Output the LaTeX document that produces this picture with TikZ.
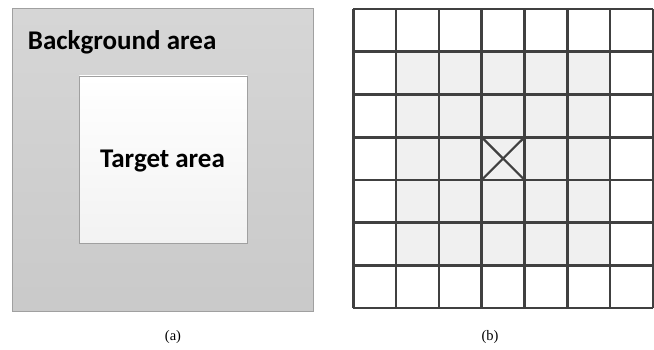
\documentclass[tikz,border=0pt]{standalone}
\usepackage{fontspec}
\setmainfont{Liberation Serif}
\newfontfamily\calib{Carlito}
\definecolor{gridline}{HTML}{404040}
\definecolor{cellfill}{HTML}{F0F0F0}
\definecolor{boxedge}{HTML}{A0A0A0}
\begin{document}
\begin{tikzpicture}[x=1pt,y=1pt,
  lbl/.style={font=\calib\bfseries\fontsize{27}{30}\selectfont, inner sep=0pt},
  captext/.style={font=\fontsize{14.5}{16}\selectfont, inner sep=0pt},
  gl/.style={draw=gridline, line width=2.6pt}]
\useasboundingbox (0,0) rectangle (654,349);
% panel (a)
\shade[top color=black!16, bottom color=black!21, draw=boxedge, line width=0.9pt]
  (12,38) rectangle (313,340.7);
\shade[top color=white, bottom color=black!5, draw=boxedge, line width=0.9pt]
  (79.3,106) rectangle (247.3,273);
\node[lbl, anchor=base west] (bg) at (27.7,299) {Background area};
\node[lbl, anchor=base] (tg) at (162.5,182) {Target area};
\node[captext, anchor=base] (ca) at (173,9) {(a)};
% panel (b)
\fill[cellfill] (395.7,83.3) rectangle (610,297.3);
\foreach \i in {0,...,7} {
  \draw[gl] ({353.3+42.8*\i},41) -- ({353.3+42.8*\i},339.9);
  \draw[gl] (353.3,{41+42.7*\i}) -- (652.9,{41+42.7*\i});
}
\coordinate (c1) at (481.7,169.1);
\coordinate (c2) at (524.5,211.8);
\coordinate (c3) at (481.7,211.8);
\coordinate (c4) at (524.5,169.1);
\draw[gl, line width=2.2pt] (c1) -- (c2);
\draw[gl, line width=2.2pt] (c3) -- (c4);
\node[captext, anchor=base] (cb) at (490,9) {(b)};
\end{tikzpicture}
\end{document}
